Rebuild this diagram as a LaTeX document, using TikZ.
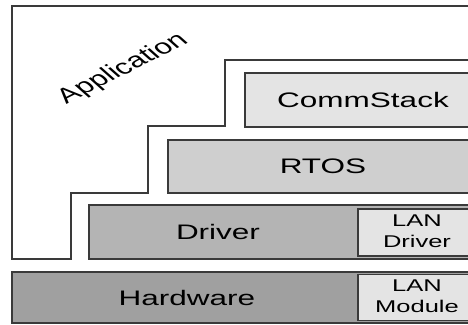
\documentclass[tikz,border=0pt]{standalone}
\usepackage{fontspec}
\setmainfont{Liberation Sans}
\usepackage{graphicx}
\usepackage{tikz}
\usetikzlibrary{positioning, calc}
\definecolor{edgeC}{HTML}{3A3A3A}
\definecolor{fillStack}{HTML}{E4E4E4}
\definecolor{fillOs}{HTML}{CFCFCF}
\definecolor{fillDrv}{HTML}{B4B4B4}
\definecolor{fillHw}{HTML}{A0A0A0}
% the source figure is stretched sideways
\newcommand{\hstretch}[1]{\scalebox{1.5}[1]{#1}}
\tikzset{
  layer/.style={draw=edgeC, line width=1.6pt, inner sep=0pt, align=center,
    font=\fontsize{21}{24}\selectfont},
  lanbox/.style={layer, fill=fillStack, font=\fontsize{17}{21}\selectfont},
  lbl/.style={font=\fontsize{21}{24}\selectfont, inner sep=0pt},
  appline/.style={draw=edgeC, line width=1.5pt},
}

\begin{document}
\begin{tikzpicture}[x=1pt, y=-1pt]
  \useasboundingbox (0,0) rectangle (468,324);
  \clip (0,0) rectangle (468,324);

  % application outline
  \draw[appline] (480,6) -- (12,6) -- (12,259) -- (71,259) -- (71,193) -- (148,193)
    -- (148,126) -- (225,126) -- (225,60) -- (480,60);
  \node[lbl, xscale=1.5, rotate=37] (app) at (123,69) {Application};

  % stack
  \node[layer, fill=fillStack, minimum width=236pt, minimum height=54pt] (comm) at (363,100)
    {\hstretch{CommStack}};
  \node[layer, fill=fillOs, minimum width=310pt, minimum height=53pt] (rtos) at (323,166.5)
    {\hstretch{RTOS}};
  \node[layer, fill=fillDrv, minimum width=391pt, minimum height=54pt] (drv) at (284.5,232) {};
  \node[lanbox, minimum width=118pt, minimum height=47pt] (landrv) at (417,232.5)
    {\hstretch{\begin{tabular}{@{}c@{}}LAN\\Driver\end{tabular}}};
  \node[lbl] (drvtxt) at (218,232) {\hstretch{Driver}};

  % hardware
  \node[layer, fill=fillHw, minimum width=468pt, minimum height=51pt] (hw) at (246,297.5) {};
  \node[lanbox, minimum width=118pt, minimum height=46pt] (lanmod) at (417,297.5)
    {\hstretch{\begin{tabular}{@{}c@{}}LAN\\Module\end{tabular}}};
  \node[lbl] (hwtxt) at (187,297.5) {\hstretch{Hardware}};
\end{tikzpicture}
\end{document}
